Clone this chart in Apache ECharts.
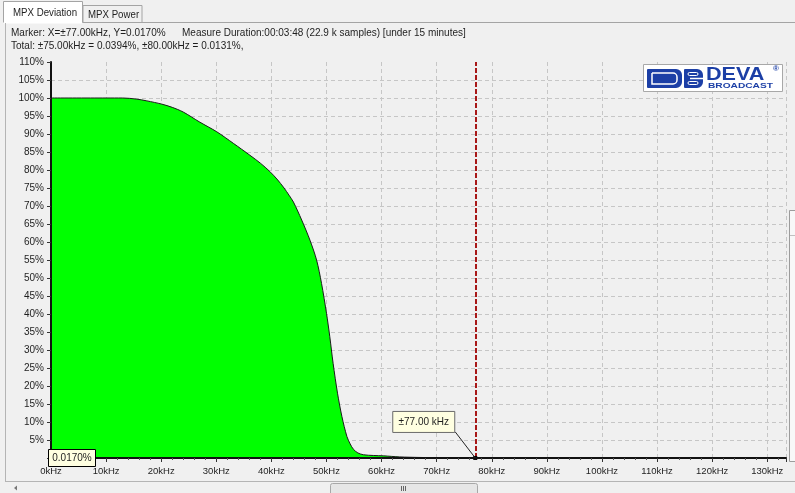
<!DOCTYPE html>
<html>
<head>
<meta charset="utf-8">
<script src="https://cdn.jsdelivr.net/npm/echarts@6/dist/echarts.min.js"></script>
<style>
  html, body { margin: 0; padding: 0; background: #f0f0f0; overflow: hidden; }
  #chart { width: 795px; height: 493px; }
</style>
</head>
<body>
<div id="chart"></div>
<script>
// Deviation distribution: share of samples exceeding each deviation (kHz -> %)
const freqKHz = [0, 10, 13, 15.5, 17.4, 20.1, 22, 24, 27, 30.1, 33.1, 36.1, 38, 39.7, 41, 42.3, 43.2, 44, 45.5, 47, 48.2, 49.1, 50, 50.6, 51.2, 52, 52.8, 53.7, 54.3, 54.9, 55.7, 56.7, 58.5, 60.3, 63.3, 67, 72, 75, 77, 80, 90, 100, 115, 133.4];
const deviationPct = [100, 100, 100, 99.7, 99.2, 98.3, 97.4, 96.1, 93.3, 90.6, 87.4, 84.1, 81.9, 79.6, 77.5, 75, 73, 71.1, 66.1, 60.5, 55, 48.5, 40.2, 33.7, 26.3, 18, 11.5, 6, 3.9, 2.4, 1.4, 0.9, 0.7, 0.6, 0.3, 0.15, 0.06, 0.0394, 0.017, 0.0131, 0.005, 0.002, 0.001, 0.001];

const xUnit = 'kHz';
const yUnit = '%';
const xMax = 133.4;
const yMax = 110;

const markerKHz = 77;
const markerPct = 0.0170;
const totals = [ { khz: 75, pct: 0.0394 }, { khz: 80, pct: 0.0131 } ];
const durationText = 'Measure Duration:00:03:48 (22.9 k samples) [under 15 minutes]';
const tabNames = ['MPX Deviation', 'MPX Power'];

const FONT = '"Liberation Sans", Arial, sans-serif';
const TEXT = '#1e1e1e';
const NARROW = 0.91;

const chart = echarts.init(document.getElementById('chart'), null, { renderer: 'canvas' });

const points = freqKHz.map((f, i) => [f, deviationPct[i]]);

const baseX = { type: 'value', min: 0, max: xMax, interval: 10, gridIndex: 0, position: 'bottom' };
const baseY = { type: 'value', min: 0, max: yMax, interval: 5, gridIndex: 0, position: 'left' };

chart.setOption({
  backgroundColor: '#f0f0f0',
  animation: false,
  grid: { left: 51, right: 9, top: 62, bottom: 35, containLabel: false },
  xAxis: [
    // dashed grid only, beneath the area
    Object.assign({}, baseX, {
      z: 0,
      axisLine: { show: false }, axisTick: { show: false }, axisLabel: { show: false },
      splitLine: { show: true, lineStyle: { color: '#c6c6c6', type: [4, 3], width: 1 } }
    }),
    // axis line, ticks and labels, drawn over the area
    Object.assign({}, baseX, {
      z: 5,
      axisLine: { show: true, onZero: false, lineStyle: { color: '#111', width: 2 } },
      axisTick: { show: true, length: 4, lineStyle: { color: '#333' } },
      minorTick: { show: true, splitNumber: 5, length: 2, lineStyle: { color: '#555' } },
      axisLabel: { show: true, margin: 8, color: TEXT, fontSize: 9.5, fontFamily: FONT,
                   formatter: v => v + xUnit },
      splitLine: { show: false }
    })
  ],
  yAxis: [
    Object.assign({}, baseY, {
      z: 0,
      axisLine: { show: false }, axisTick: { show: false }, axisLabel: { show: false },
      splitLine: { show: true, showMaxLine: false, lineStyle: { color: '#c6c6c6', type: [4, 3], width: 1 } }
    }),
    Object.assign({}, baseY, {
      z: 5,
      axisLine: { show: true, onZero: false, lineStyle: { color: '#111', width: 2 } },
      axisTick: { show: true, length: 4, lineStyle: { color: '#333' } },
      axisLabel: { show: true, margin: 7, color: TEXT, fontSize: 10, fontFamily: FONT,
                   formatter: v => v === 0 ? '' : v + yUnit },
      splitLine: { show: false }
    })
  ],
  series: [{
    type: 'line',
    xAxisIndex: 1,
    yAxisIndex: 1,
    data: points,
    smooth: 0.3,
    symbol: 'none',
    z: 2,
    lineStyle: { color: '#1a1a1a', width: 1 },
    areaStyle: { color: '#00ff00', opacity: 1 },
    markLine: {
      silent: true,
      symbol: 'none',
      label: { show: false },
      lineStyle: { color: '#a81818', type: [5, 2], width: 2 },
      data: [{ xAxis: markerKHz }]
    },
    markPoint: {
      silent: true,
      symbol: 'rect',
      symbolSize: 4,
      itemStyle: { color: '#000' },
      label: { show: false },
      data: [{ coord: [markerKHz, markerPct] }]
    }
  }]
});

// Window chrome, header lines, logo and marker callouts
const mk = chart.convertToPixel({ xAxisIndex: 1, yAxisIndex: 1 }, [markerKHz, markerPct]);
const origin = chart.convertToPixel({ xAxisIndex: 1, yAxisIndex: 1 }, [0, 0]);
const blue = '#1c3fa6';

const header1 = 'Marker: X=\u00b1' + markerKHz.toFixed(2) + 'kHz, Y=' + markerPct.toFixed(4) + '%';
const header2 = 'Total: ' + totals.map(t => '\u00b1' + t.khz.toFixed(2) + 'kHz = ' + t.pct.toFixed(4) + '%,').join(' ');

const txt = (x, y, text, size, extra, sx) => ({
  type: 'text', x: x, y: y, scaleX: sx === undefined ? NARROW : sx, silent: true,
  style: Object.assign({ text: text, fill: TEXT, font: size + 'px ' + FONT, textVerticalAlign: 'middle' }, extra || {})
});

const graphic = [
  // tabs
  { type: 'rect', shape: { x: 83, y: 5.5, width: 59, height: 17 }, style: { fill: '#f0f0f0', stroke: '#a4a4a4' }, silent: true },
  { type: 'rect', shape: { x: 3.5, y: 1.5, width: 79, height: 22 }, style: { fill: '#ffffff', stroke: 'none' }, silent: true },
  { type: 'polyline', shape: { points: [[3.5, 22.5], [3.5, 1.5], [82.5, 1.5], [82.5, 22.5]] }, style: { stroke: '#a4a4a4', fill: 'none' }, silent: true },
  { type: 'line', shape: { x1: 82.5, y1: 22.5, x2: 795, y2: 22.5 }, style: { stroke: '#a4a4a4' }, silent: true },
  { type: 'line', shape: { x1: 5.5, y1: 23, x2: 5.5, y2: 481 }, style: { stroke: '#b4b4b4' }, silent: true },
  txt(13, 13, tabNames[0], 11, null, 0.88),
  txt(88, 14.5, tabNames[1], 11, null, 0.88),
  // header
  txt(11, 32.5, header1, 11),
  txt(182, 32.5, durationText, 11),
  txt(11, 46, header2, 11),
  // bottom scrollbar
  { type: 'line', shape: { x1: 5, y1: 481.5, x2: 795, y2: 481.5 }, style: { stroke: '#b4b4b4' }, silent: true },
  { type: 'polygon', shape: { points: [[14, 488], [17, 485.5], [17, 490.5]] }, style: { fill: '#777' }, silent: true },
  { type: 'rect', shape: { x: 330.5, y: 483.5, width: 147, height: 12, r: 2 }, style: { fill: '#e6e6e6', stroke: '#a8a8a8' }, silent: true },
  { type: 'line', shape: { x1: 401.5, y1: 486, x2: 401.5, y2: 491 }, style: { stroke: '#666' }, silent: true },
  { type: 'line', shape: { x1: 403.5, y1: 486, x2: 403.5, y2: 491 }, style: { stroke: '#666' }, silent: true },
  { type: 'line', shape: { x1: 405.5, y1: 486, x2: 405.5, y2: 491 }, style: { stroke: '#666' }, silent: true },
  // right side splitter
  { type: 'rect', shape: { x: 789.5, y: 210.5, width: 12, height: 251 }, style: { fill: '#f8f8f8', stroke: '#9c9c9c' }, silent: true },
  { type: 'line', shape: { x1: 790, y1: 235.5, x2: 795, y2: 235.5 }, style: { stroke: '#c0c0c0' }, silent: true },
  // logo
  { type: 'rect', shape: { x: 643.5, y: 64.5, width: 139, height: 27 }, style: { fill: '#ffffff', stroke: '#a8a8a8' }, silent: true },
  { type: 'rect', shape: { x: 647, y: 69, width: 35, height: 19, r: [1, 6, 6, 1] }, style: { fill: blue }, silent: true },
  { type: 'rect', shape: { x: 652, y: 73, width: 25, height: 11, r: [0, 4, 4, 0] }, style: { fill: 'none', stroke: '#ffffff', lineWidth: 1.5 }, silent: true },
  { type: 'rect', shape: { x: 684, y: 69, width: 19, height: 19, r: [1, 6, 6, 1] }, style: { fill: blue }, silent: true },
  { type: 'line', shape: { x1: 690, y1: 78.5, x2: 703, y2: 78.5 }, style: { stroke: '#ffffff', lineWidth: 1.5 }, silent: true },
  { type: 'rect', shape: { x: 688, y: 72.5, width: 10, height: 3, r: 1.5 }, style: { fill: 'none', stroke: '#ffffff', lineWidth: 1 }, silent: true },
  { type: 'rect', shape: { x: 688, y: 81.5, width: 10, height: 3, r: 1.5 }, style: { fill: 'none', stroke: '#ffffff', lineWidth: 1 }, silent: true },
  { type: 'text', x: 706, y: 75, scaleX: 1.2, silent: true,
    style: { text: 'DEVA', fill: blue, font: 'bold 18px "Liberation Sans", Arial, sans-serif', textVerticalAlign: 'middle' } },
  { type: 'text', x: 708, y: 86, scaleX: 1.45, silent: true,
    style: { text: 'BROADCAST', fill: blue, font: 'bold 7px "Liberation Sans", Arial, sans-serif', textVerticalAlign: 'middle' } },
  { type: 'text', x: 773, y: 69, silent: true,
    style: { text: '\u00ae', fill: blue, font: 'bold 8px "Liberation Sans", Arial, sans-serif', textVerticalAlign: 'middle' } },
  // marker frequency callout with leader
  { type: 'line', shape: { x1: mk[0] - 20, y1: mk[1] - 26, x2: mk[0], y2: mk[1] }, style: { stroke: '#222', lineWidth: 1 }, silent: true, z: 20 },
  { type: 'rect', shape: { x: mk[0] - 82.5, y: mk[1] - 46.5, width: 62, height: 21 }, style: { fill: '#ffffe1', stroke: '#6a6a6a', lineWidth: 1 }, silent: true, z: 20 },
  txt(mk[0] - 51.5, mk[1] - 36, '\u00b1' + markerKHz.toFixed(2) + ' kHz', 11, { textAlign: 'center' }),
  // marker value callout on the vertical axis
  { type: 'rect', shape: { x: origin[0] - 2.5, y: origin[1] - 8.5, width: 47, height: 17 }, style: { fill: '#ffffe1', stroke: '#000', lineWidth: 1 }, silent: true, z: 20 },
  txt(origin[0] + 21, origin[1], markerPct.toFixed(4) + '%', 11, { textAlign: 'center' })
];
graphic.forEach(g => { if (g.z === undefined) g.z = 10; if (g.type === 'text') g.z = 21; });

chart.setOption({ graphic: graphic });
</script>
</body>
</html>
